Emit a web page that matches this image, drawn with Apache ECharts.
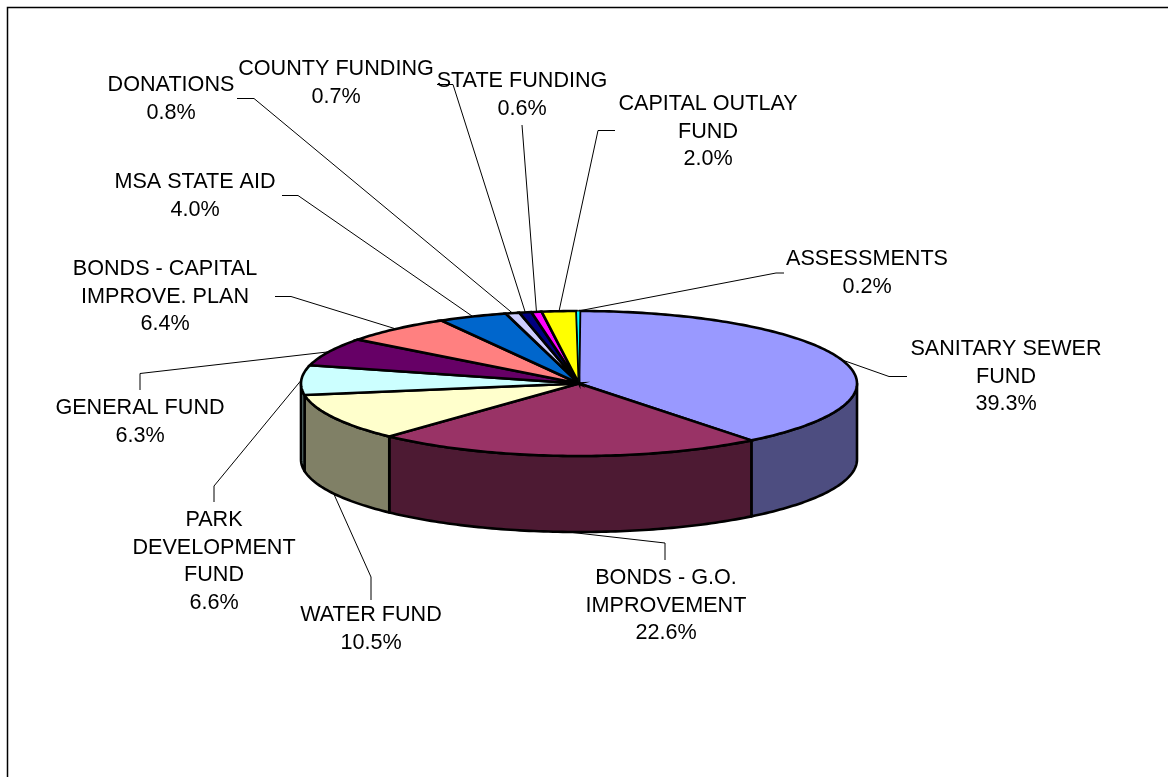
<!DOCTYPE html>
<html>
<head>
<meta charset="utf-8">
<script src="https://cdn.jsdelivr.net/npm/echarts@6/dist/echarts.min.js"></script>
<style>html,body{margin:0;padding:0;background:#fff}#c{width:1168px;height:777px}</style>
</head>
<body>
<div id="c"></div>
<script>
// ---- data ----
const categories = ['SANITARY SEWER\nFUND','BONDS - G.O.\nIMPROVEMENT','WATER FUND','PARK\nDEVELOPMENT\nFUND','GENERAL FUND','BONDS - CAPITAL\nIMPROVE. PLAN','MSA STATE AID','DONATIONS','COUNTY FUNDING','STATE FUNDING','CAPITAL OUTLAY\nFUND','ASSESSMENTS'];
const shares = [39.3,22.6,10.5,6.6,6.3,6.4,4.0,0.8,0.7,0.6,2.0,0.2];

// ---- styles and layout, separate from the data ----
const topColors  = ['#9999FF','#993366','#FFFFCC','#CCFFFF','#660066','#FF8080','#0066CC','#CCCCFF','#000080','#FF00FF','#FFFF00','#00FFFF'];
const sideColors = ['#4D4D80','#4D1A33','#808066','#668080','#330033','#804040','#003366','#666680','#000040','#800080','#808000','#008080'];
const PIE = {cx:579, cy:383.5, rx:278, ry:72.5, depth:76, turn:0.2*Math.PI/180};
const FONT = '21.6px "Liberation Sans", Arial, sans-serif';
const LINE_H = 27.6;
// label centre x, first line centre y
const labelPlace = [[1006,349],[666,578],[371,615],[214,520],[140,408],[165,269],[195,182],[171,85],[336,69],[522,81],[708,104],[867,259]];
// leader: elbow point, then end point
const leaderPlace = [
  [[889,376.5],[907,376.5]], [[665,543],[665,560]], [[371,577],[371,600]], [[214,486],[214,502]],
  [[140,373.5],[140,390]], [[291,296.5],[275,296.5]], [[298,195.5],[282,195.5]], [[254,98.5],[237,98.5]],
  [[453,84.5],[437,84.5]], [[522,125],[522,125]], [[598,130.5],[615,130.5]], [[776,273],[784,273]]
];

const total = shares.reduce((a,b)=>a+b,0);
const starts = []; shares.reduce((acc,v,i)=>{starts[i]=acc; return acc+v;},0);
const angle = pct => pct/total*2*Math.PI + PIE.turn;
const rim = (t,drop) => [PIE.cx+PIE.rx*Math.sin(t), PIE.cy-PIE.ry*Math.cos(t)+(drop||0)];
function arc(a,b,drop){
  const n=Math.max(2,Math.ceil((b-a)/(Math.PI/180)));
  const p=[]; for(let k=0;k<=n;k++){p.push(rim(a+(b-a)*k/n,drop));}
  return p;
}
const renderSide=(params,api)=>{
  const i=params.dataIndex, v=api.value(0);
  const a=Math.max(angle(starts[i]),Math.PI/2), b=Math.min(angle(starts[i]+v),Math.PI*1.5);
  if(b<=a) return {type:'group',children:[]};
  const pts=arc(a,b,0).concat(arc(a,b,PIE.depth).reverse());
  return {type:'polygon',shape:{points:pts},style:{fill:sideColors[i],stroke:'#000',lineWidth:2.6,lineJoin:'round'}};
};
const renderTop=(params,api)=>{
  const i=params.dataIndex, v=api.value(0);
  const a=angle(starts[i]), b=angle(starts[i]+v);
  const pts=[[PIE.cx,PIE.cy]].concat(arc(a,b,0));
  // the thinnest wedge keeps a fine outline so that its colour still shows
  return {type:'polygon',shape:{points:pts},style:{fill:topColors[i],stroke:'#000',lineWidth:v<0.5?1:2.6,lineJoin:v<0.5?'bevel':'miter'}};
};
const renderLabel=(params,api)=>{
  const i=params.dataIndex, v=api.value(0);
  const mid=angle(starts[i]+v/2);
  const front=Math.cos(mid)<0 && mid<Math.PI*1.45;
  const from=rim(mid,front?PIE.depth:0);
  const pl=leaderPlace[i], lp=labelPlace[i];
  return {type:'group',children:[
    {type:'polyline',shape:{points:[from,pl[0],pl[1]]},style:{fill:null,stroke:'#000',lineWidth:1},z2:1},
    {type:'text',style:{text:categories[i]+'\n'+v.toFixed(1)+'%',x:lp[0],y:lp[1]-LINE_H/2,align:'center',verticalAlign:'top',font:FONT,lineHeight:LINE_H,fill:'#000'},z2:5}
  ]};
};
const data=shares.map(v=>[v]);
const chart=echarts.init(document.getElementById('c'),null,{renderer:'canvas'});
chart.setOption({
  animation:false,
  backgroundColor:'#fff',
  graphic:[{type:'polyline',shape:{points:[[7.5,777],[7.5,7.5],[1168,7.5]]},style:{fill:null,stroke:'#000',lineWidth:1.5},silent:true}],
  series:[
    {type:'custom',coordinateSystem:'none',data,renderItem:renderLabel,z:1,silent:true},
    {type:'custom',coordinateSystem:'none',data,renderItem:renderSide,z:2,silent:true},
    {type:'custom',coordinateSystem:'none',data,renderItem:renderTop,z:3,silent:true}
  ]
});
</script>
</body>
</html>
